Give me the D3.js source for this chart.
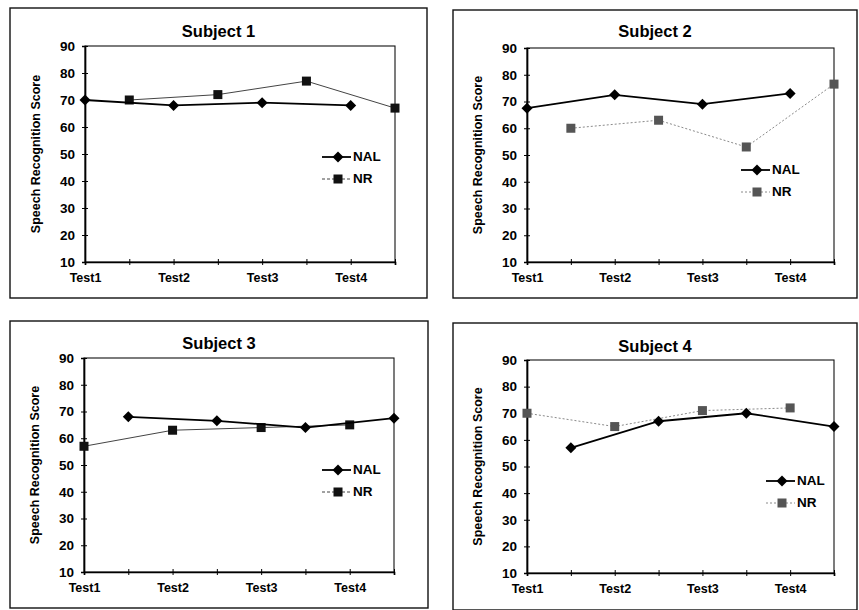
<!DOCTYPE html>
<html><head><meta charset="utf-8">
<script src="https://cdn.jsdelivr.net/npm/d3@7"></script>
<style>
html,body{margin:0;padding:0;background:#fff;}
svg{display:block;font-family:"Liberation Sans",Arial,sans-serif;}
</style></head>
<body>
<svg id="c" width="859" height="610"></svg>
<script>
// ---- data ----
const categories = ["Test1", "", "Test2", "", "Test3", "", "Test4", ""];
const yTicks = [10, 20, 30, 40, 50, 60, 70, 80, 90];
const titles = ["Subject 1", "Subject 2", "Subject 3", "Subject 4"];
const seriesNames = ["NAL", "NR"];
const nal1 = [70, null, 68, null, 69, null, 68, null];
const nr1  = [null, 70, null, 72, null, 77, null, 67];
const nal2 = [67.5, null, 72.5, null, 69, null, 73, null];
const nr2  = [null, 60, null, 63, null, 53, null, 76.5];
const nal3 = [null, 68, null, 66.5, null, 64, null, 67.5];
const nr3  = [57, null, 63, null, 64, null, 65, null];
const nal4 = [null, 57, null, 67, null, 70, null, 65];
const nr4  = [70, null, 65, null, 71, null, 72, null];

// ---- layout ----
const layout = [
  {box:[10,8,427,298],  plot:[85,46,395,262],  leg:[322,157], ty:33,  light:false},
  {box:[453,10,857,298],plot:[527,48,834,262], leg:[741,170], ty:33,  light:true},
  {box:[10,321,428,608],plot:[84,358,394,572], leg:[322,470], ty:345, light:false},
  {box:[453,323,857,610],plot:[527,360,834,573],leg:[766,481],ty:348, light:true}
];
const data = [[nal1,nr1],[nal2,nr2],[nal3,nr3],[nal4,nr4]];

const svg = d3.select("#c");
const diamond = "M0,-5.5L5.5,0L0,5.5L-5.5,0Z";

layout.forEach((L, i) => {
  const g = svg.append("g");
  const [bx0,by0,bx1,by1] = L.box;
  const [px0,py0,px1,py1] = L.plot;
  g.append("rect").attr("x",bx0).attr("y",by0).attr("width",bx1-bx0).attr("height",by1-by0)
    .attr("fill","none").attr("stroke","#111").attr("stroke-width",1.4);

  const x = d3.scalePoint().domain(d3.range(categories.length)).range([px0,px1]);
  const y = d3.scaleLinear().domain([10,90]).range([py1,py0]);

  // plot area border
  g.append("rect").attr("x",px0).attr("y",py0).attr("width",px1-px0).attr("height",py1-py0)
    .attr("fill","none").attr("stroke","#111").attr("stroke-width",1.1);

  // y axis
  const ya = g.append("g").attr("transform",`translate(${px0},0)`)
    .call(d3.axisLeft(y).tickValues(yTicks).tickSize(3).tickPadding(7));
  ya.select(".domain").attr("stroke","#000").attr("stroke-width",1.7);
  ya.selectAll(".tick line").attr("x1",3).attr("x2",-3).attr("stroke","#000").attr("stroke-width",1);
  ya.selectAll(".tick text").attr("font-size",13.5).attr("font-weight","bold").attr("fill","#000")
    .attr("font-family","'Liberation Sans',Arial,sans-serif");

  // x axis
  const xa = g.append("g").attr("transform",`translate(0,${py1})`)
    .call(d3.axisBottom(x).tickFormat(d => categories[d]).tickSize(3).tickPadding(8));
  xa.select(".domain").attr("stroke","#000").attr("stroke-width",1.7);
  xa.selectAll(".tick line").attr("y1",-3).attr("y2",3).attr("stroke","#000").attr("stroke-width",1);
  xa.selectAll(".tick text").attr("font-size",12.5).attr("font-weight","bold").attr("fill","#000")
    .attr("font-family","'Liberation Sans',Arial,sans-serif");

  // title
  g.append("text").attr("x",(bx0+bx1)/2).attr("y",L.ty).attr("text-anchor","middle")
    .attr("dominant-baseline","middle").attr("font-size",16.5).attr("font-weight","bold").text(titles[i]);

  // y label
  g.append("text").attr("transform",`translate(${px0-48},${(py0+py1)/2}) rotate(-90)`)
    .attr("text-anchor","middle").attr("dominant-baseline","middle")
    .attr("font-size",12.5).attr("font-weight","bold").text("Speech Recognition Score");

  const nrLine = L.light ? "#8a8a8a" : "#444";
  const nrDash = L.light ? "2,2" : null;
  const nrMark = L.light ? "#555" : "#111";

  const line = d3.line().x(d => x(d.i)).y(d => y(d.v));
  const pts = arr => arr.map((v,k) => ({i:k, v:v})).filter(d => d.v !== null);

  // NR series
  const nr = pts(data[i][1]);
  g.append("path").datum(nr).attr("d",line).attr("fill","none")
    .attr("stroke",nrLine).attr("stroke-width",1).attr("stroke-dasharray",nrDash);
  g.selectAll(".nr").data(nr).enter().append("rect")
    .attr("x",d => x(d.i)-4.5).attr("y",d => y(d.v)-4.5).attr("width",9).attr("height",9)
    .attr("fill",nrMark);

  // NAL series
  const nal = pts(data[i][0]);
  g.append("path").datum(nal).attr("d",line).attr("fill","none")
    .attr("stroke","#000").attr("stroke-width",1.8);
  g.selectAll(".nal").data(nal).enter().append("path")
    .attr("d",diamond).attr("transform",d => `translate(${x(d.i)},${y(d.v)})`).attr("fill","#000");

  // legend
  const [lx,ly] = L.leg;
  const lg = g.append("g");
  lg.append("line").attr("x1",lx).attr("x2",lx+29).attr("y1",ly).attr("y2",ly)
    .attr("stroke","#000").attr("stroke-width",1.8);
  lg.append("path").attr("d",diamond).attr("transform",`translate(${lx+16},${ly})`).attr("fill","#000");
  lg.append("text").attr("x",lx+31).attr("y",ly).attr("dominant-baseline","middle")
    .attr("font-size",13.5).attr("font-weight","bold").text(seriesNames[0]);
  const ly2 = ly + 22;
  lg.append("line").attr("x1",lx).attr("x2",lx+29).attr("y1",ly2).attr("y2",ly2)
    .attr("stroke",nrLine).attr("stroke-width",1).attr("stroke-dasharray",L.light ? "2,2" : "3,2");
  lg.append("rect").attr("x",lx+16-4.5).attr("y",ly2-4.5).attr("width",9).attr("height",9).attr("fill",nrMark);
  lg.append("text").attr("x",lx+31).attr("y",ly2).attr("dominant-baseline","middle")
    .attr("font-size",13.5).attr("font-weight","bold").text(seriesNames[1]);
});
</script>
</body></html>
